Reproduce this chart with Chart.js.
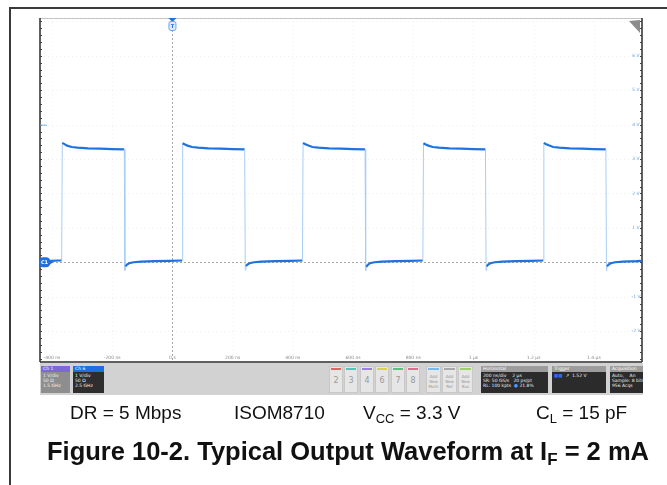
<!DOCTYPE html>
<html>
<head>
<meta charset="utf-8">
<script src="https://cdn.jsdelivr.net/npm/chart.js@4/dist/chart.umd.min.js"></script>
<style>
  html, body { margin: 0; padding: 0; background: #fff; }
  #wrap { position: relative; width: 667px; height: 485px; overflow: hidden; font-family: "Liberation Sans", Arial, sans-serif; }
  #frame { position: absolute; left: 9px; top: 7px; width: 700px; height: 520px; border-left: 2px solid #3a3a3a; border-top: 2px solid #3a3a3a; }
  canvas { position: absolute; left: 0; top: 0; }
  .bar { position: absolute; left: 40px; top: 363px; width: 603px; height: 32px; background: #d2d2d2; }
  .box { position: absolute; top: 3px; height: 27px; font-family: "DejaVu Sans", sans-serif; font-size: 4.5px; line-height: 5px; color: #eee; overflow: hidden; }
  .box .hd { height: 6px; line-height: 6px; padding-left: 2px; color: #fff; }
  .box .bd { padding: 1px 2px; white-space: nowrap; }
  .btn { position: absolute; top: 3px; height: 27px; width: 14px; background: #e6e6e6; border: 1px solid #c8c8c8; box-sizing: border-box; font-family: "DejaVu Sans", sans-serif; color: #999; text-align: center; }
  .btn .ln { position: absolute; left: 1px; right: 1px; top: 1px; height: 1.5px; }
  .btn .dg { position: absolute; left: 0; right: 0; top: 9px; font-size: 8px; }
  .btn .tx { position: absolute; left: 0; right: 0; top: 7px; font-size: 4px; line-height: 5px; }
  .cap { position: absolute; top: 402px; font-size: 19px; color: #111; white-space: nowrap; }
  .cap sub { font-size: 13px; vertical-align: -4px; line-height: 0; }
  .title { position: absolute; left: 47px; top: 437px; font-size: 25.5px; font-weight: bold; color: #111; white-space: nowrap; }
  .title sub { font-size: 17px; vertical-align: -5px; line-height: 0; }
</style>
</head>
<body>
<div id="wrap">
  <div id="frame"></div>
  <canvas id="c" width="667" height="485"></canvas>
  <div class="bar">
    <div class="box" style="left:1px;width:29px;background:#8e8e8e;"><div class="hd" style="background:#7b6ad6;">Ch 1</div><div class="bd">1 V/div<br>50 Ω<br>1.5 GHz</div></div>
    <div class="box" style="left:33px;width:31px;background:#2e2e2e;"><div class="hd" style="background:#1f6fe0;">Ch 6</div><div class="bd">1 V/div<br>50 Ω<br>2.5 GHz</div></div>
    <div class="btn" style="left:289px;"><div class="ln" style="background:#e06464;"></div><div class="dg">2</div></div>
    <div class="btn" style="left:304px;"><div class="ln" style="background:#4cc6b6;"></div><div class="dg">3</div></div>
    <div class="btn" style="left:320px;"><div class="ln" style="background:#9b7fe0;"></div><div class="dg">4</div></div>
    <div class="btn" style="left:335px;"><div class="ln" style="background:#d8d24e;"></div><div class="dg">6</div></div>
    <div class="btn" style="left:351px;"><div class="ln" style="background:#56c27c;"></div><div class="dg">7</div></div>
    <div class="btn" style="left:366px;"><div class="ln" style="background:#e46a8e;"></div><div class="dg">8</div></div>
    <div class="btn" style="left:386px;width:15px;"><div class="ln" style="background:#7ab8ea;"></div><div class="tx">Add<br>New<br>Math</div></div>
    <div class="btn" style="left:402px;width:15px;"><div class="ln" style="background:#a8a8a8;"></div><div class="tx">Add<br>New<br>Ref</div></div>
    <div class="btn" style="left:418px;width:15px;"><div class="ln" style="background:#9bd06a;"></div><div class="tx">Add<br>New<br>Bus</div></div>
    <div class="box" style="left:441px;width:67px;background:#2b2b2b;"><div class="hd" style="background:#9c9c9c;">Horizontal</div><div class="bd">200 ns/div &nbsp;&nbsp; 2 µs<br>SR: 50 GS/s &nbsp; 20 ps/pt<br>RL: 100 kpts &nbsp;<span style="color:#4aa0ff">●</span> 21.8%</div></div>
    <div class="box" style="left:512px;width:54px;background:#2b2b2b;"><div class="hd" style="background:#9c9c9c;">Trigger</div><div class="bd"><span style="color:#2a6cf0">■■</span> &nbsp;↗ &nbsp;1.52 V</div></div>
    <div class="box" style="left:570px;width:33px;background:#2b2b2b;"><div class="hd" style="background:#9c9c9c;">Acquisition</div><div class="bd">Auto, &nbsp;&nbsp; An<br>Sample: 8 bits<br>956 Acqs</div></div>
  </div>
  <div class="cap" style="left:70px;">DR = 5 Mbps</div>
  <div class="cap" style="left:234px;">ISOM8710</div>
  <div class="cap" style="left:363px;">V<sub>CC</sub> = 3.3 V</div>
  <div class="cap" style="left:536px;">C<sub>L</sub> = 15 pF</div>
  <div class="title" id="title">Figure 10-2. Typical Output Waveform at I<sub>F</sub> = 2 mA</div>
</div>
<script>
// ---- data read from the oscilloscope capture (time in ns, output in V) ----
const timeNs = [
  -440, -420, -400, -380, -368,
  -366, -360, -350, -335, -315, -280, -240, -200, -160,
  -158, -156, -151, -144, -129, -104, -60, -10, 32,
  34, 40, 50, 65, 85, 120, 160, 200, 240,
  242, 244, 249, 256, 271, 296, 340, 390, 432,
  434, 440, 450, 465, 485, 520, 560, 600, 640,
  642, 644, 649, 656, 671, 696, 740, 790, 832,
  834, 840, 850, 865, 885, 920, 960, 1000, 1040,
  1042, 1044, 1049, 1056, 1071, 1096, 1140, 1190, 1232,
  1234, 1240, 1250, 1265, 1285, 1320, 1360, 1400, 1440,
  1442, 1444, 1449, 1456, 1471, 1496, 1540, 1560
];
const outputV = [
  0.03, 0.04, 0.04, 0.05, 0.05,
  3.47, 3.44, 3.39, 3.35, 3.33, 3.31, 3.30, 3.29, 3.28,
  -0.24, -0.12, -0.07, -0.03, 0.00, 0.02, 0.03, 0.04, 0.05,
  3.46, 3.43, 3.39, 3.35, 3.33, 3.31, 3.30, 3.29, 3.28,
  -0.23, -0.11, -0.07, -0.03, 0.00, 0.02, 0.03, 0.04, 0.05,
  3.47, 3.44, 3.40, 3.35, 3.33, 3.31, 3.30, 3.29, 3.28,
  -0.25, -0.13, -0.08, -0.03, 0.00, 0.02, 0.03, 0.04, 0.05,
  3.46, 3.43, 3.39, 3.35, 3.33, 3.31, 3.30, 3.29, 3.28,
  -0.24, -0.12, -0.07, -0.03, 0.00, 0.02, 0.03, 0.04, 0.05,
  3.47, 3.44, 3.40, 3.35, 3.33, 3.31, 3.30, 3.29, 3.28,
  -0.25, -0.12, -0.07, -0.03, 0.00, 0.02, 0.03, 0.04
];
const timeTicks = [-400, -200, 0, 200, 400, 600, 800, 1000, 1200, 1400];
const timeLabels = ['-400 ns', '-200 ns', '0 s', '200 ns', '400 ns', '600 ns', '800 ns', '1 µs', '1.2 µs', '1.4 µs'];
const voltTicks = [6, 5, 4, 3, 2, 1, 0, -1, -2];
const voltLabels = ['6 V', '5 V', '4 V', '3 V', '2 V', '1 V', '0 V', '-1 V', '-2 V'];

const points = timeNs.map((t, i) => ({ x: t, y: outputV[i] }));

// fast transitions are drawn faint/thin like the scope's intensity grading
const isEdge = c => Math.abs(c.p1.parsed.y - c.p0.parsed.y) / Math.max(1e-6, Math.abs(c.p1.parsed.x - c.p0.parsed.x)) > 0.03;

const scopePlugin = {
  id: 'scope',
  beforeDatasetsDraw(chart) {
    const { ctx, chartArea: a, scales: { x, y } } = chart;
    const L = (x1, y1, x2, y2) => { ctx.beginPath(); ctx.moveTo(x1, y1); ctx.lineTo(x2, y2); ctx.stroke(); };
    ctx.save();
    ctx.strokeStyle = 'rgba(0,0,0,0.06)'; ctx.lineWidth = 1; ctx.setLineDash([1, 3]);
    timeTicks.forEach(t => { const px = Math.round(x.getPixelForValue(t)) + 0.5; L(px, a.top, px, a.bottom); });
    [7, 6, 5, 4, 3, 2, 1, -1, -2].forEach(v => { const py = Math.round(y.getPixelForValue(v)) + 0.5; L(a.left, py, a.right, py); });
    ctx.strokeStyle = '#a8a8a8'; ctx.setLineDash([2, 2]);
    const x0 = Math.round(x.getPixelForValue(0)) + 0.5;
    L(x0, a.top, x0, a.bottom);
    const y0 = Math.round(y.getPixelForValue(0)) + 0.5;
    L(a.left, y0, a.right, y0);
    ctx.setLineDash([]);
    ctx.strokeStyle = '#c4c4c4'; ctx.lineWidth = 1;
    L(a.left, a.top + 0.5, a.right, a.top + 0.5);
    ctx.strokeStyle = '#2a2a2a'; ctx.lineWidth = 1.5;
    L(a.left, a.top, a.left, a.bottom);
    L(a.right, a.top, a.right, a.bottom);
    L(a.left, a.bottom, a.right, a.bottom);
    ctx.lineWidth = 1; ctx.strokeStyle = '#444';
    const yStep = (y.getPixelForValue(0) - y.getPixelForValue(1)) / 5;
    for (let py = y.getPixelForValue(0); py > a.top; py -= yStep) { L(a.left, Math.round(py) + 0.5, a.left + 2, Math.round(py) + 0.5); L(a.right - 2, Math.round(py) + 0.5, a.right, Math.round(py) + 0.5); }
    for (let py = y.getPixelForValue(0) + yStep; py < a.bottom; py += yStep) { L(a.left, Math.round(py) + 0.5, a.left + 2, Math.round(py) + 0.5); L(a.right - 2, Math.round(py) + 0.5, a.right, Math.round(py) + 0.5); }
    ctx.font = '4.5px "DejaVu Sans"'; ctx.fillStyle = '#8a8a8a'; ctx.textAlign = 'center'; ctx.textBaseline = 'middle';
    timeTicks.forEach((t, i) => ctx.fillText(timeLabels[i], x.getPixelForValue(t), a.bottom - 4));
    ctx.fillStyle = '#6f9fdc';
    voltTicks.forEach((v, i) => ctx.fillText(voltLabels[i], a.right - 6, y.getPixelForValue(v)));
    ctx.strokeStyle = '#7ab0e8'; ctx.lineWidth = 1;
    L(a.left, y.getPixelForValue(4) + 0.5, a.left + 7, y.getPixelForValue(4) + 0.5);
    ctx.restore();
  },
  afterDatasetsDraw(chart) {
    const { ctx, chartArea: a, scales: { x, y } } = chart;
    ctx.save();
    const yc = y.getPixelForValue(0);
    ctx.fillStyle = '#1f6fe0';
    ctx.beginPath(); ctx.roundRect(a.left - 1, yc - 5, 11, 10, 4); ctx.fill();
    ctx.beginPath(); ctx.moveTo(a.left + 9, yc - 3); ctx.lineTo(a.left + 13, yc); ctx.lineTo(a.left + 9, yc + 3); ctx.fill();
    ctx.fillStyle = '#fff'; ctx.font = 'bold 5px "DejaVu Sans"'; ctx.textAlign = 'center'; ctx.textBaseline = 'middle';
    ctx.fillText('C1', a.left + 4.5, yc + 0.5);
    const xt = x.getPixelForValue(0);
    ctx.fillStyle = '#1f6fe0';
    ctx.beginPath(); ctx.moveTo(xt - 4, a.top); ctx.lineTo(xt + 4, a.top); ctx.lineTo(xt, a.top + 4); ctx.fill();
    ctx.strokeStyle = '#6aa6ea'; ctx.lineWidth = 1; ctx.fillStyle = '#dcebfb';
    ctx.beginPath(); ctx.roundRect(xt - 3.5, a.top + 3.5, 7, 9, 2); ctx.fill(); ctx.stroke();
    ctx.fillStyle = '#1f6fe0'; ctx.font = 'bold 5px "DejaVu Sans"';
    ctx.fillText('T', xt, a.top + 8.5);
    ctx.fillStyle = '#8c8c8c';
    ctx.beginPath(); ctx.moveTo(a.right - 13, a.top + 3); ctx.lineTo(a.right - 2, a.top + 2); ctx.lineTo(a.right - 2, a.top + 15); ctx.closePath(); ctx.fill();
    ctx.restore();
  }
};

new Chart(document.getElementById('c'), {
  type: 'line',
  data: {
    datasets: [{
      data: points,
      borderColor: '#1e73e0',
      borderWidth: 2.2,
      pointRadius: 0,
      tension: 0,
      fill: false,
      segment: {
        borderColor: c => isEdge(c) ? '#a8cdf4' : '#1e73e0',
        borderWidth: c => isEdge(c) ? 1 : 2.2
      }
    }]
  },
  options: {
    responsive: false,
    animation: false,
    devicePixelRatio: 1,
    layout: { padding: { left: 40, top: 18, right: 25, bottom: 123 } },
    plugins: { legend: { display: false }, tooltip: { enabled: false } },
    scales: {
      x: { type: 'linear', min: -440, max: 1560, display: false },
      y: { type: 'linear', min: -2.9, max: 7.1, display: false }
    }
  },
  plugins: [scopePlugin]
});
</script>
</body>
</html>
